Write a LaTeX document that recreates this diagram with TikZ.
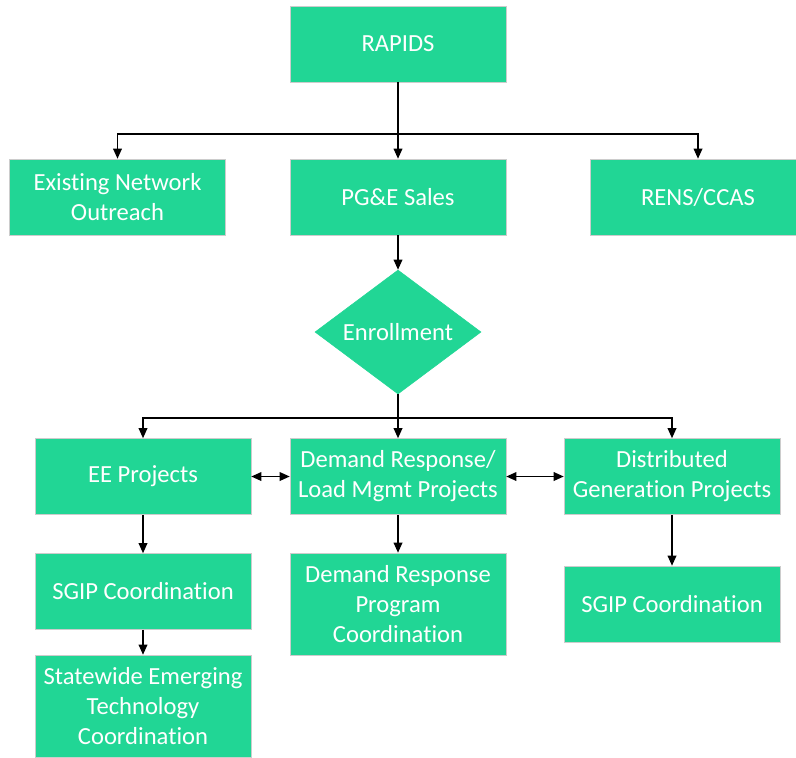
\documentclass[tikz,border=0pt]{standalone}
\usepackage{fontspec}
\setmainfont{Carlito}[Ligatures={NoCommon}]
\usepackage{tikz}
\usetikzlibrary{shapes.geometric, arrows.meta}
\definecolor{rapgreen}{RGB}{33,214,149}
\newcommand{\boxfont}{\fontsize{17.5}{21.3}\selectfont}
\tikzset{
  box/.style={draw=black!20, fill=rapgreen, text=white, font=\boxfont,
    align=center, minimum width=5.4cm, minimum height=1.9cm, inner sep=2pt},
  arr/.style={-{Triangle[length=7.2pt,width=6.2pt]}, line width=1pt},
  dbl/.style={{Triangle[length=7.2pt,width=6.2pt]}-{Triangle[length=7.2pt,width=6.2pt]}, line width=1pt}
}
\begin{document}
\begin{tikzpicture}
    \useasboundingbox (0,0) rectangle (19.9,-18.925);
    \node(rapids)[box] at (9.95,-1.1) {RAPIDS};
    \node(ext)[box] at (2.9375,-4.925) {Existing Network\\Outreach};
    \node(pge)[box] at (9.95,-4.925) {PG\&E Sales};
    \node(rens)[box] at (17.45,-4.925) {RENS/CCAS};
    \node(enroll)[diamond, fill=rapgreen, draw=rapgreen, text=white, font=\boxfont,
      inner sep=0pt, aspect=1.34, minimum width=4.15cm, minimum height=3.1cm] at (9.95,-8.3) {Enrollment};
    \node(ee)[box] at (3.575,-11.9125) {EE Projects};
    \node(dr)[box] at (9.95,-11.9125) {Demand Response/\\Load Mgmt Projects};
    \node(dg)[box] at (16.8,-11.9125) {Distributed\\Generation Projects};
    \node(sgipa)[box] at (3.575,-14.7875) {SGIP Coordination};
    \node(drc)[box, minimum height=2.55cm] at (9.95,-15.1) {Demand Response\\Program\\Coordination};
    \node(sgipb)[box] at (16.8,-15.1) {SGIP Coordination};
    \node(state)[box, minimum height=2.55cm] at (3.575,-17.65) {Statewide Emerging\\Technology\\Coordination};
    \coordinate(top) at (9.95,-3.35);
    \coordinate(mid) at (9.95,-10.45);
    % first level
    \draw[line width=1pt] (rapids.south) -- (top);
    \draw[arr] (top) -| (ext.north);
    \draw[arr] (top) -- (pge.north);
    \draw[arr] (top) -| (rens.north);
    \draw[arr] (pge.south) -- (enroll.north);
    % second level
    \draw[line width=1pt] (enroll.south) -- (mid);
    \draw[arr] (mid) -| (ee.north);
    \draw[arr] (mid) -- (dr.north);
    \draw[arr] (mid) -| (dg.north);
    \draw[dbl] (ee.east) -- (dr.west);
    \draw[dbl] (dr.east) -- (dg.west);
    \draw[arr] (ee.south) -- (sgipa.north);
    \draw[arr] (sgipa.south) -- (state.north);
    \draw[arr] (dr.south) -- (drc.north);
    \draw[arr] (dg.south) -- (sgipb.north);
\end{tikzpicture}
\end{document}
